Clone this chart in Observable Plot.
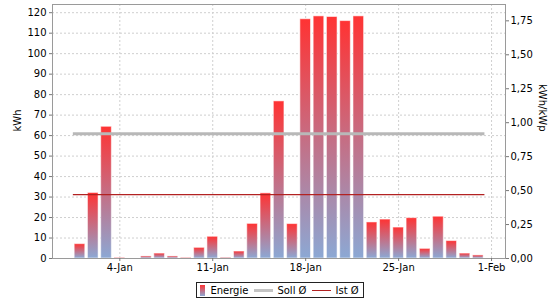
<!DOCTYPE html>
<html>
<head>
<meta charset="utf-8">
<script src="https://cdn.jsdelivr.net/npm/d3@7"></script>
<script src="https://cdn.jsdelivr.net/npm/@observablehq/plot@0.6"></script>
<style>
  html, body { margin: 0; padding: 0; background: #fff; }
  #chart { width: 560px; }
  .legend { display: flex; justify-content: center; margin-top: 4px; }
  .legend .box { display: flex; align-items: center; border: 1px solid #222; height: 14px; padding: 0 4px 0 3px;
    font: 10px "DejaVu Sans", sans-serif; color: #000; }
  .legend .sw-bar { width: 5px; height: 11px; background: linear-gradient(#ff3333, #8ca8d4); margin-right: 5px; }
  .legend .sw-line { width: 19px; margin: 0 4px 0 6px; }
</style>
</head>
<body>
<div id="chart"></div>
<script>
// ---- data ----
const year = 2019;
const days = [1,2,3,4,5,6,7,8,9,10,11,12,13,14,15,16,17,18,19,20,21,22,23,24,25,26,27,28,29,30,31]; // January
const energy = [7.0,32.0,64.3,0.3,0,1.0,2.4,1.0,0.3,5.2,10.6,0.4,3.4,16.9,31.8,76.7,16.8,116.8,118.2,117.9,115.9,118.2,17.6,19.0,15.1,19.7,4.7,20.4,8.5,2.4,1.5]; // kWh
const sollAvg = 60.9;            // kWh
const kWp = 66.3;                // plant size
const leftTicks = [0,10,20,30,40,50,60,70,80,90,100,110,120];
const rightTicks = [0,0.25,0.5,0.75,1.0,1.25,1.5,1.75];
const xTickDays = [[0,4],[0,11],[0,18],[0,25],[1,1]]; // [month, day]

// ---- derived ----
const DAY = 864e5;
const data = days.map((d, i) => ({date: new Date(Date.UTC(year, 0, d)), kWh: energy[i]}));
const istAvg = d3.mean(energy);
const first = data[0].date, last = data[data.length - 1].date;
const xTicks = xTickDays.map(([m, d]) => new Date(Date.UTC(year, m, d)));
const fmt = d3.utcFormat("%-d-%b");

const defs = () => {
  const g = d3.create("svg:defs");
  const lg = g.append("linearGradient").attr("id", "barGrad").attr("x1", 0).attr("y1", 0).attr("x2", 0).attr("y2", 1);
  lg.append("stop").attr("offset", "0%").attr("stop-color", "#ff3333");
  lg.append("stop").attr("offset", "100%").attr("stop-color", "#8ca8d4");
  return g.node();
};

const chart = Plot.plot({
  width: 560,
  height: 278,
  marginLeft: 52,
  marginRight: 55,
  marginTop: 4,
  marginBottom: 20,
  style: {fontFamily: "DejaVu Sans, sans-serif", fontSize: "10px", color: "#000", background: "#fff"},
  x: {type: "utc", domain: [new Date(first - 2.07 * DAY), new Date(+last + 2.05 * DAY)]},
  y: {domain: [0, 124]},
  marks: [
    defs,
    Plot.gridY(leftTicks, {stroke: "#cfcfcf", strokeOpacity: 1, strokeDasharray: "2,2"}),
    Plot.gridX(xTicks, {stroke: "#cfcfcf", strokeOpacity: 1, strokeDasharray: "2,2"}),
    Plot.rectY(data, {
      x1: d => new Date(+d.date - 0.4 * DAY),
      x2: d => new Date(+d.date + 0.4 * DAY),
      y: "kWh",
      fill: "url(#barGrad)",
      stroke: "#ffffff",
      strokeOpacity: 0.55,
      strokeWidth: 1
    }),
    Plot.ruleY([sollAvg], {x1: new Date(+first - DAY / 2), x2: new Date(+last + DAY / 2), stroke: "#b8b8b8", strokeWidth: 3}),
    Plot.ruleY([istAvg], {x1: new Date(+first - DAY / 2), x2: new Date(+last + DAY / 2), stroke: "#b22222", strokeWidth: 1.3}),
    Plot.frame({stroke: "#9a9a9a"}),
    Plot.axisY({ticks: leftTicks, tickSize: 3, tickPadding: 3, label: null, stroke: "#777"}),
    Plot.axisY({anchor: "right", ticks: rightTicks.map(v => v * kWp), tickFormat: d => (d / kWp).toFixed(2).replace(".", ","),
      tickSize: 3, tickPadding: 2, label: null, stroke: "#777"}),
    Plot.axisX({ticks: xTicks, tickFormat: fmt, tickSize: 3, tickPadding: 2, label: null, stroke: "#777"}),
    Plot.text(["kWh"], {frameAnchor: "left", dx: -35, rotate: -90, fontSize: 10}),
    Plot.text(["kWh/kWp"], {frameAnchor: "right", dx: 37, rotate: 90, fontSize: 10})
  ]
});
document.getElementById("chart").appendChild(chart);

// legend
const legend = document.createElement("div");
legend.className = "legend";
legend.innerHTML = `<div class="box">
  <span class="sw-bar"></span><span>Energie</span>
  <span class="sw-line" style="border-top:3px solid #c4c4c4"></span><span>Soll Ø</span>
  <span class="sw-line" style="border-top:1.5px solid #b22222"></span><span>Ist Ø</span>
</div>`;
document.getElementById("chart").appendChild(legend);
</script>
</body>
</html>
